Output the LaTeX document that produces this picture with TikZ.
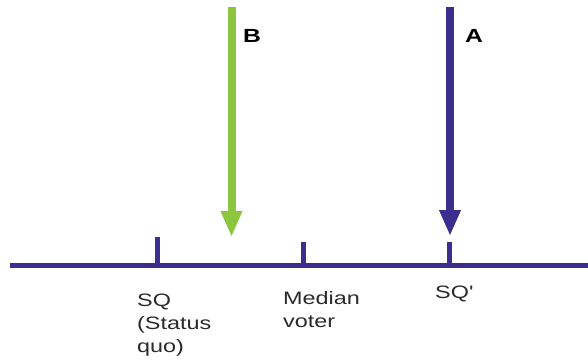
\documentclass[tikz,border=0pt]{standalone}
\usepackage{fontspec}
\setmainfont{Liberation Sans}[FakeStretch=1.3]
\usetikzlibrary{arrows.meta}
\definecolor{indigo}{HTML}{3A2F8E}
\definecolor{lime}{HTML}{8CC63F}
\definecolor{txt}{HTML}{2A2A2A}
\tikzset{
  axis/.style={draw=indigo, line width=5pt},
  tick/.style={draw=indigo, line width=5pt},
  bigarrow/.style={line width=8pt, -{Triangle[width=20pt,length=26pt]}},
  lbl/.style={anchor=base west, inner sep=0pt, text=txt, font=\fontsize{18}{23}\selectfont, align=left},
  letter/.style={anchor=base west, inner sep=0pt, text=black, font=\fontsize{19}{22}\selectfont\bfseries},
}
\begin{document}
\begin{tikzpicture}[x=1pt,y=-1pt]
\useasboundingbox (0,0) rectangle (588,361);
% axis
\coordinate (L) at (10,265.5);
\coordinate (R) at (588,265.5);
\draw[axis] (L) -- (R);
% ticks
\coordinate (sqtop) at (157.5,237);
\coordinate (sqbot) at (157.5,265.5);
\coordinate (mvtop) at (303.5,242);
\coordinate (mvbot) at (303.5,265.5);
\coordinate (sqptop) at (449.5,242);
\coordinate (sqpbot) at (449.5,265.5);
\draw[tick] (sqtop) -- (sqbot);
\draw[tick] (mvtop) -- (mvbot);
\draw[tick] (sqptop) -- (sqpbot);
% arrows
\coordinate (bstart) at (231.5,7);
\coordinate (bend) at (231.5,237);
\coordinate (astart) at (450,7);
\coordinate (aend) at (450,236);
\draw[bigarrow, draw=lime, fill=lime] (bstart) -- (bend);
\draw[bigarrow, draw=indigo, fill=indigo] (astart) -- (aend);
% letters
\node[letter] (B) at (243,42) {B};
\node[letter] (A) at (465,42) {A};
% labels (anchor is baseline of last line)
\node[lbl] (sq) at (137,352) {SQ\\(Status\\quo)};
\node[lbl] (mv) at (283,327) {Median\\voter};
\node[lbl] (sqp) at (435,298) {SQ\textquotesingle};
\end{tikzpicture}
\end{document}
